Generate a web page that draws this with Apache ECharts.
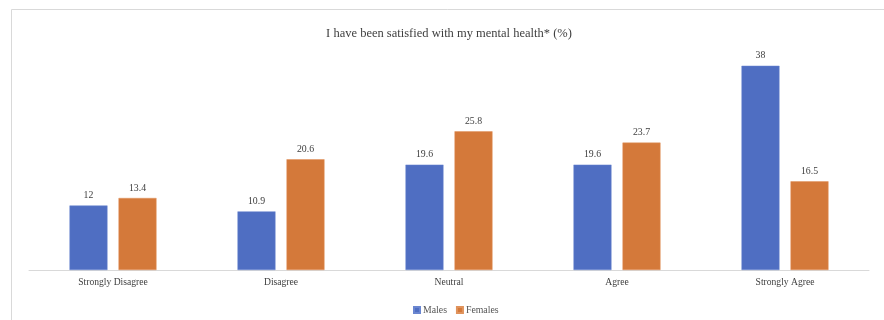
<!DOCTYPE html>
<html>
<head>
<meta charset="utf-8">
<script src="https://cdn.jsdelivr.net/npm/echarts@6/dist/echarts.min.js"></script>
<style>
  html, body { margin: 0; padding: 0; background: #fff; }
  #chart { width: 884px; height: 320px; }
</style>
</head>
<body>
<div id="chart"></div>
<script>
// Survey responses by sex, percent
const categories = ['Strongly Disagree', 'Disagree', 'Neutral', 'Agree', 'Strongly Agree'];
const males = [12, 10.9, 19.6, 19.6, 38];
const females = [13.4, 20.6, 25.8, 23.7, 16.5];
const seriesNames = ['Males', 'Females'];

const serif = '"Liberation Serif", "DejaVu Serif", serif';
const textColor = '#404040';

const chart = echarts.init(document.getElementById('chart'), null, { renderer: 'canvas' });

const labelStyle = {
  show: true,
  position: 'top',
  distance: 5,
  fontFamily: serif,
  fontSize: 9.8,
  color: textColor
};

chart.setOption({
  animation: false,
  backgroundColor: '#fff',
  title: {
    text: 'I have been satisfied with my mental health* (%)',
    left: 444,
    textAlign: 'center',
    top: 22,
    textStyle: { fontFamily: serif, fontSize: 12.5, fontWeight: 'normal', color: textColor }
  },
  // chart frame (left and top edges of the surrounding box)
  graphic: [
    { type: 'line', shape: { x1: 11.5, y1: 9.5, x2: 11.5, y2: 320 }, style: { stroke: '#d9d9d9', lineWidth: 1 } },
    { type: 'line', shape: { x1: 11.5, y1: 9.5, x2: 884, y2: 9.5 }, style: { stroke: '#d9d9d9', lineWidth: 1 } }
  ],
  legend: {
    data: seriesNames,
    left: 408,
    top: 300,
    itemWidth: 6,
    itemHeight: 6,
    itemGap: 9,
    icon: 'rect',
    textStyle: { fontFamily: serif, fontSize: 9.8, color: '#555', padding: [0, 0, 0, -2] }
  },
  grid: { left: 29, right: 15, top: 55, bottom: 50, containLabel: false },
  xAxis: {
    type: 'category',
    data: categories,
    axisLine: { lineStyle: { color: '#d9d9d9', width: 1 } },
    axisTick: { show: false },
    axisLabel: { fontFamily: serif, fontSize: 9.6, color: textColor, margin: 7 }
  },
  yAxis: {
    type: 'value',
    min: 0,
    max: 40,
    show: false,
    splitLine: { show: false }
  },
  series: [
    {
      name: seriesNames[0],
      type: 'bar',
      data: males,
      barWidth: 38,
      barGap: '29%',
      itemStyle: { color: '#4f6ec2', borderColor: '#6a86d0', borderWidth: 0.5 },
      label: labelStyle
    },
    {
      name: seriesNames[1],
      type: 'bar',
      data: females,
      barWidth: 38,
      itemStyle: { color: '#d4793a', borderColor: '#e0935c', borderWidth: 0.5 },
      label: labelStyle
    }
  ]
});
</script>
</body>
</html>
